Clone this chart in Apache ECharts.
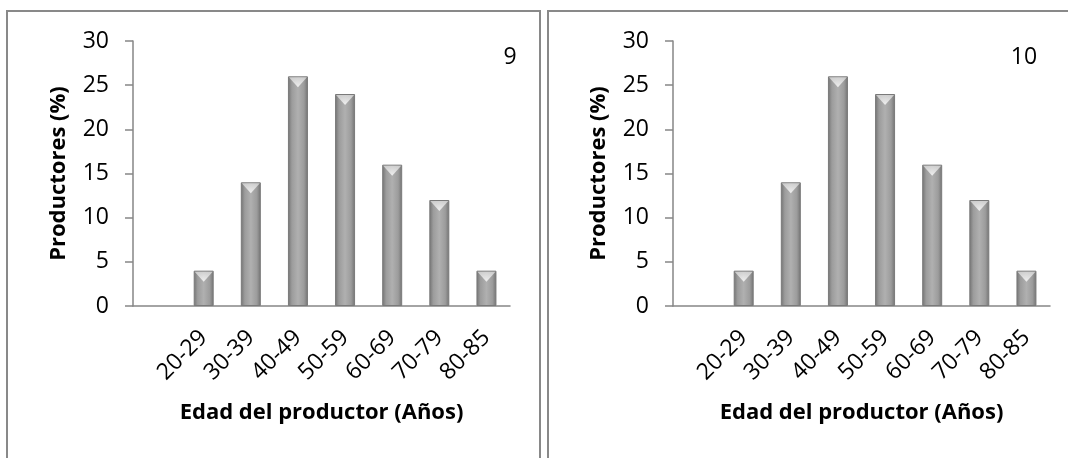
<!DOCTYPE html>
<html>
<head>
<meta charset="utf-8">
<script src="https://cdn.jsdelivr.net/npm/echarts@6/dist/echarts.min.js"></script>
<style>
  html, body { margin: 0; padding: 0; background: #ffffff; }
  #chart { width: 1068px; height: 458px; }
</style>
</head>
<body>
<div id="chart"></div>
<script>
// Age groups of producers (first slot is an empty leading category)
const categories = ['', '20-29', '30-39', '40-49', '50-59', '60-69', '70-79', '80-85'];
// Share of producers (%) per age group, panel 9 and panel 10
const valuesPanel9 = ['-', 4, 14, 26, 24, 16, 12, 4];
const valuesPanel10 = ['-', 4, 14, 26, 24, 16, 12, 4];
const panelLabels = ['9', '10'];
const yTicks = { min: 0, max: 30, interval: 5 };

const FONT = '"Open Sans", "Noto Sans", sans-serif';
const AXIS_GREY = '#868686';

const barFill = {
  type: 'linear', x: 0, y: 0, x2: 1, y2: 0,
  colorStops: [
    { offset: 0, color: '#727272' },
    { offset: 0.2, color: '#9c9c9c' },
    { offset: 0.5, color: '#b0b0b0' },
    { offset: 0.8, color: '#9c9c9c' },
    { offset: 1, color: '#727272' }
  ]
};
const capFill = {
  type: 'linear', x: 0, y: 0, x2: 0, y2: 1,
  colorStops: [
    { offset: 0, color: '#ffffff' },
    { offset: 1, color: '#d8d8d8' }
  ]
};

function grid(left) {
  return { left: left, top: 41, width: 377, height: 265 };
}
function xAxis(gridIndex) {
  return {
    type: 'category', gridIndex: gridIndex, data: categories,
    axisLine: { lineStyle: { color: AXIS_GREY, width: 1.5 } },
    axisTick: { show: false },
    axisLabel: { rotate: 45, margin: 28, fontSize: 23, color: '#000', fontFamily: FONT },
    name: 'Edad del productor (Años)', nameLocation: 'middle', nameGap: 96,
    nameTextStyle: { fontSize: 22, fontWeight: 'bold', color: '#000', fontFamily: FONT }
  };
}
function yAxis(gridIndex) {
  return {
    type: 'value', gridIndex: gridIndex, min: yTicks.min, max: yTicks.max, interval: yTicks.interval,
    splitLine: { show: false },
    axisLine: { show: true, lineStyle: { color: AXIS_GREY, width: 1.5 } },
    axisTick: { show: true, inside: false, length: 8, lineStyle: { color: AXIS_GREY, width: 1.5 } },
    axisLabel: { margin: 24, fontSize: 23, color: '#000', fontFamily: FONT },
    name: 'Productores (%)', nameLocation: 'middle', nameGap: 63,
    nameTextStyle: { fontSize: 22, fontWeight: 'bold', color: '#000', fontFamily: FONT }
  };
}
function bars(idx, data) {
  return {
    type: 'bar', xAxisIndex: idx, yAxisIndex: idx, data: data, barWidth: 20,
    itemStyle: { color: barFill, borderColor: '#7a7a7a', borderWidth: 1 },
    emphasis: { disabled: true }, silent: true, z: 2
  };
}
function caps(idx, data) {
  return {
    type: 'scatter', xAxisIndex: idx, yAxisIndex: idx, data: data,
    symbol: 'triangle', symbolRotate: 180, symbolSize: [18, 10], symbolOffset: [0, 6],
    itemStyle: { color: capFill },
    emphasis: { disabled: true }, silent: true, z: 3
  };
}
function panelText(label, x) {
  return {
    type: 'text', x: x, y: 57, silent: true,
    style: { text: label, fill: '#000', font: '23px ' + FONT, textAlign: 'center', textVerticalAlign: 'middle' }
  };
}

const chart = echarts.init(document.getElementById('chart'), null, { renderer: 'canvas' });
chart.setOption({
  animation: false,
  backgroundColor: '#ffffff',
  graphic: [
    { type: 'rect', shape: { x: 7, y: 11, width: 533, height: 460 }, style: { fill: 'none', stroke: '#898989', lineWidth: 2 }, silent: true, z: -1 },
    { type: 'rect', shape: { x: 548, y: 11, width: 540, height: 460 }, style: { fill: 'none', stroke: '#898989', lineWidth: 2 }, silent: true, z: -1 },
    panelText(panelLabels[0], 510),
    panelText(panelLabels[1], 1024)
  ],
  grid: [grid(133), grid(673)],
  xAxis: [xAxis(0), xAxis(1)],
  yAxis: [yAxis(0), yAxis(1)],
  series: [
    bars(0, valuesPanel9), caps(0, valuesPanel9),
    bars(1, valuesPanel10), caps(1, valuesPanel10)
  ]
});
</script>
</body>
</html>
